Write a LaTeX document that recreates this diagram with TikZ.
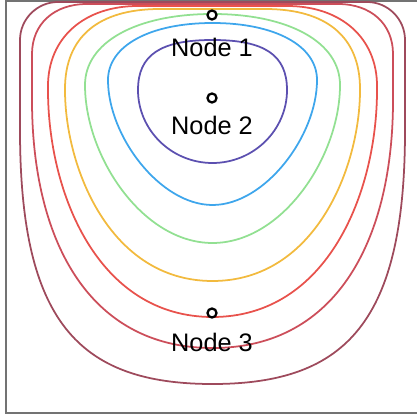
\documentclass[tikz,border=0pt]{standalone}
\usepackage{fontspec}
\setmainfont{Liberation Sans}
\usetikzlibrary{positioning}

\definecolor{lvlA}{RGB}{158,74,92}
\definecolor{lvlB}{RGB}{204,78,90}
\definecolor{lvlC}{RGB}{232,82,76}
\definecolor{lvlD}{RGB}{242,186,62}
\definecolor{lvlE}{RGB}{146,224,146}
\definecolor{lvlF}{RGB}{62,166,236}
\definecolor{lvlG}{RGB}{92,80,176}

\begin{document}
\begin{tikzpicture}[x=0.01cm, y=-0.01cm,
        ring/.style={circle, draw, fill=white, line width=0.65pt, inner sep=0pt, minimum size=0.09cm},
        tag/.style={font=\fontsize{7.2}{9}\selectfont, inner sep=1pt}]
        \useasboundingbox (0,0) rectangle (417,419);

        % Frame.
        \draw[black!55, line width=0.7pt] (417,1) -- (6,1) -- (6,413) -- (417,413);

        % Level lines, outer to inner.
        \foreach \c/\L/\R/\T/\B/\rx/\ry/\kt/\ys/\ka/\kb in {
                lvlA/20/405/2/384/38/38/0.55/130/0.75/0.7,
                lvlB/32/393/4/348/55/50/0.6/100/0.55/0.7,
                lvlC/48/377/6/317/90/80/0.6/90/0.45/0.7,
                lvlD/65/360/9/281/95/80/0.65/90/0.4/0.7,
                lvlE/85/340/14/243/127.5/71/0.6/85/0.45/0.55,
                lvlF/108/317/23/205/104.5/57/0.6/80/0.45/0.5,
                lvlG/138/287/40/163/74.5/50/0.7/90/0.55/0.55}
        {
                \draw[\c, line width=0.5pt] (\L,\T+\ry) .. controls +(0,-\kt*\ry) and +(-\kt*\rx,0) .. (\L+\rx,\T)
                        -- (\R-\rx,\T) .. controls +(\kt*\rx,0) and +(0,-\kt*\ry) .. (\R,\T+\ry)
                        -- (\R,\ys) .. controls +(0,\ka*\B-\ka*\ys) and +(\kb*\R/2-\kb*\L/2,0) .. ({(\L+\R)/2},\B)
                        .. controls +(-\kb*\R/2+\kb*\L/2,0) and +(0,\ka*\B-\ka*\ys) .. (\L,\ys) -- cycle;
        }

        % Nodes.
        \node[ring] (n1) at (212,15) {};
        \node[ring] (n2) at (212,98) {};
        \node[ring] (n3) at (212,313) {};
        \node[tag, below=1.3mm of n1] (t1) {Node 1};
        \node[tag, below=0.8mm of n2] (t2) {Node 2};
        \node[tag, below=1mm of n3] (t3) {Node 3};
\end{tikzpicture}
\end{document}
